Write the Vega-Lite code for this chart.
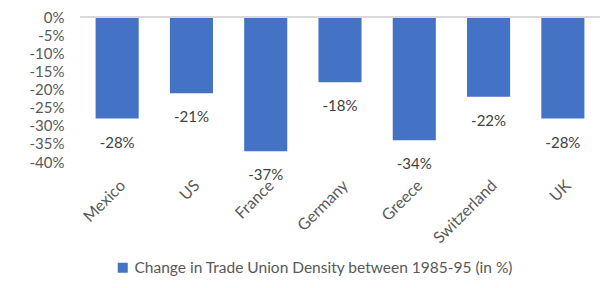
{
  "$schema": "https://vega.github.io/schema/vega-lite/v6.json",
  "width": 520,
  "height": 145,
  "autosize": {"type": "none"},
  "padding": {"left": 80, "top": 17, "right": 10, "bottom": 126},
  "background": "white",
  "config": {
    "view": {"stroke": null},
    "font": "Lato",
    "axis": {"labelFont": "Lato", "labelColor": "#595959", "labelFontSize": 15},
    "legend": {"labelFont": "Lato", "labelColor": "#595959", "labelFontSize": 15.5}
  },
  "data": {
    "values": [
      {"country": "Mexico", "change": -28, "series": "Change in Trade Union Density between 1985-95 (in %)"},
      {"country": "US", "change": -21, "series": "Change in Trade Union Density between 1985-95 (in %)"},
      {"country": "France", "change": -37, "series": "Change in Trade Union Density between 1985-95 (in %)"},
      {"country": "Germany", "change": -18, "series": "Change in Trade Union Density between 1985-95 (in %)"},
      {"country": "Greece", "change": -34, "series": "Change in Trade Union Density between 1985-95 (in %)"},
      {"country": "Switzerland", "change": -22, "series": "Change in Trade Union Density between 1985-95 (in %)"},
      {"country": "UK", "change": -28, "series": "Change in Trade Union Density between 1985-95 (in %)"}
    ]
  },
  "encoding": {
    "x": {
      "field": "country",
      "type": "nominal",
      "sort": null,
      "scale": {"paddingInner": 0.42, "paddingOuter": 0.21},
      "axis": {
        "title": null,
        "domain": false,
        "ticks": false,
        "labelAngle": -45,
        "labelFontSize": 16,
        "labelPadding": 15,
        "labelOverlap": false
      }
    },
    "y": {
      "field": "change",
      "type": "quantitative",
      "scale": {"domain": [-40, 0], "nice": false},
      "axis": {
        "title": null,
        "domain": false,
        "ticks": false,
        "grid": false,
        "values": [0, -5, -10, -15, -20, -25, -30, -35, -40],
        "labelExpr": "datum.value + '%'",
        "labelOverlap": false,
        "labelPadding": 16
      }
    }
  },
  "layer": [
    {
      "mark": {"type": "bar", "color": "#4472C4"},
      "encoding": {
        "color": {
          "field": "series",
          "type": "nominal",
          "scale": {"range": ["#4472C4"]},
          "legend": {
            "title": null,
            "orient": "none",
            "legendX": 35,
            "legendY": 243,
            "symbolType": "square",
            "symbolSize": 100,
            "symbolStrokeWidth": 0,
            "labelOffset": 4,
            "labelLimit": 600
          }
        }
      }
    },
    {
      "mark": {"type": "rule", "color": "#D9D9D9", "strokeWidth": 1.5},
      "encoding": {
        "x": {"value": 0},
        "x2": {"value": 520},
        "y": {"datum": 0}
      }
    },
    {
      "transform": [{"calculate": "datum.change + '%'", "as": "label"}],
      "mark": {"type": "text", "dy": 24, "fontSize": 15, "color": "#404040", "font": "Lato"},
      "encoding": {
        "text": {"field": "label", "type": "nominal"}
      }
    }
  ]
}
